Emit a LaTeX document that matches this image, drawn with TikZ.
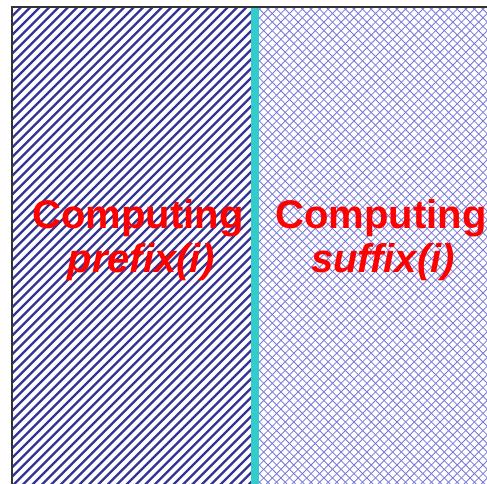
\documentclass[tikz,border=0pt]{standalone}
\usepackage{fontspec}
\setmainfont{Liberation Sans}
\usetikzlibrary{positioning}
\definecolor{stripeNavy}{RGB}{52,52,150}
\definecolor{hatchBlue}{RGB}{120,120,215}
\definecolor{barCyan}{RGB}{51,204,204}
\definecolor{labelRed}{RGB}{255,0,0}

\begin{document}
\begin{tikzpicture}[x=1pt,y=-1pt,
    label/.style={labelRed,font=\fontsize{40}{44}\selectfont\bfseries,anchor=base,inner sep=0pt},
    sublabel/.style={label,font=\fontsize{40}{44}\selectfont\bfseries\itshape}]
        \useasboundingbox (0,0) rectangle (487,484);
        % left panel: diagonal stripes
        \begin{scope}
          \clip (12,7) rectangle (251,484);
          \foreach \c in {0,9.4,...,780} {
            \draw[stripeNavy,line width=2.3pt] (\c,0) -- (\c-500,500);
          }
        \end{scope}
        % right panel: cross hatch
        \begin{scope}
          \clip (259,7) rectangle (487,484);
          \foreach \c in {260,268.6,...,1000} {
            \draw[hatchBlue,line width=0.8pt] (\c,0) -- (\c-500,500);
            \draw[hatchBlue,line width=0.8pt] (\c-500,0) -- (\c,500);
          }
        \end{scope}
        % divider and frame
        \fill[barCyan] (251,7) rectangle (259,484);
        \draw[black!80,line width=1.3pt] (12,484) -- (12,7) -- (487,7);
        % labels
        \node[label] (prefixtop) at (138,228) {Computing};
        \node[sublabel] (prefixbot) at (141,272) {prefix(i)};
        \node[label] (suffixtop) at (381,228) {Computing};
        \node[sublabel] (suffixbot) at (383,272) {suffix(i)};
      \end{tikzpicture}
\end{document}
